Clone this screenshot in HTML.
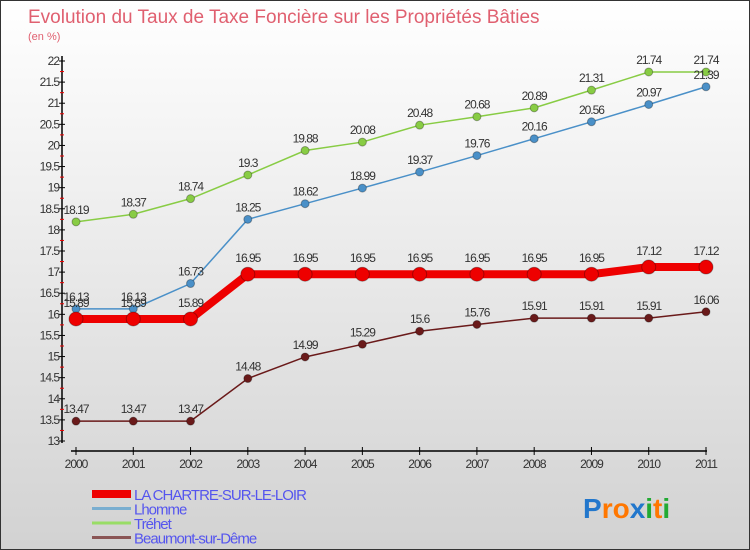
<!DOCTYPE html>
<html><head><meta charset="utf-8"><style>
body{margin:0}
#c{position:relative;width:750px;height:550px;overflow:hidden;font-family:"Liberation Sans","DejaVu Sans",sans-serif;background:linear-gradient(#ffffff,#d2d2d2);box-sizing:border-box;border:1px solid #333}
</style></head><body>
<div id="c">
<svg id="s" width="750" height="550" xmlns="http://www.w3.org/2000/svg"></svg>
</div>
<script>
const years=["2000","2001","2002","2003","2004","2005","2006","2007","2008","2009","2010","2011"];
const chartre=[15.89,15.89,15.89,16.95,16.95,16.95,16.95,16.95,16.95,16.95,17.12,17.12];
const lhomme=[16.13,16.13,16.73,18.25,18.62,18.99,19.37,19.76,20.16,20.56,20.97,21.39];
const trehet=[18.19,18.37,18.74,19.3,19.88,20.08,20.48,20.68,20.89,21.31,21.74,21.74];
const beaumont=[13.47,13.47,13.47,14.48,14.99,15.29,15.6,15.76,15.91,15.91,15.91,16.06];
const yTicks=["13","13.5","14","14.5","15","15.5","16","16.5","17","17.5","18","18.5","19","19.5","20","20.5","21","21.5","22"];
const NS="http://www.w3.org/2000/svg";
const s=document.getElementById('s');
const X=i=>75+i*(630/11);
const Y=v=>440-(v-13)*(380/9);
function mk(t,a,p){const e=document.createElementNS(NS,t);for(const k in a)e.setAttribute(k,a[k]);(p||s).appendChild(e);return e;}
let t=mk('text',{x:27,y:22,'font-size':19,fill:'#e06070'});t.textContent='Evolution du Taux de Taxe Foncière sur les Propriétés Bâties';


t=mk('text',{x:27,y:39,'font-size':11,fill:'#e06070'});t.textContent='(en %)';


mk('line',{x1:61,y1:55,x2:61,y2:442,stroke:'#000','stroke-width':1.5});
mk('line',{x1:70,y1:450,x2:706,y2:450,stroke:'#000','stroke-width':1.5});
yTicks.forEach((l,i)=>{const v=parseFloat(l),y=Y(v);
mk('line',{x1:58,y1:y,x2:64,y2:y,stroke:'#000'});
if(i<yTicks.length-1)mk('line',{x1:59,y1:Y(v+0.25),x2:63,y2:Y(v+0.25),stroke:'#e00'});
const tt=mk('text',{x:58,y:y+4,'font-size':12,fill:'#333','text-anchor':'end','letter-spacing':'-1'});tt.textContent=l;

});
years.forEach((l,i)=>{const x=X(i);mk('line',{x1:x,y1:446,x2:x,y2:454,stroke:'#000'});
const tt=mk('text',{x:x,y:467,'font-size':12,fill:'#333','text-anchor':'middle','letter-spacing':'-1'});tt.textContent=l;

});
function series(d,col,w,r,name,dy){
const g=mk('g',{});


mk('polyline',{points:d.map((v,i)=>X(i)+','+Y(v)).join(' '),fill:'none',stroke:col,'stroke-width':w},g);
d.forEach((v,i)=>{const c=mk('circle',{cx:X(i),cy:Y(v),r:r,fill:col,stroke:'rgba(0,0,0,0.3)'},g);


const tt=mk('text',{x:X(i),y:Y(v)-dy,'font-size':12,fill:'#333','text-anchor':'middle','letter-spacing':'-1'},g);tt.textContent=String(v);});}
series(trehet,'#88cc44',1.5,4,'series-trehet',8);
series(lhomme,'#4a90c8',1.5,4,'series-lhomme',8);
series(beaumont,'#6a1a1a',1.5,4,'series-beaumont',8);
series(chartre,'#ee0000',8,7,'series-chartre',12);
const leg=[['LA CHARTRE-SUR-LE-LOIR','#ee0000',8],['Lhomme','#7aaed0',3],['Tréhet','#99dd66',3],['Beaumont-sur-Dême','#8a5555',3]];
leg.forEach((l,i)=>{const y=493+i*14.5;
mk('line',{x1:91,y1:y,x2:130,y2:y,stroke:l[1],'stroke-width':l[2]});
const tt=mk('text',{x:133,y:y+6,'font-size':15,fill:'#5555ee','letter-spacing':'-1'});tt.textContent=l[0];

});
const lg=mk('text',{x:582,y:517,'font-size':28,'font-weight':'bold'});


[['P','#2277cc'],['ro','#ff7700'],['x','#2277cc'],['i','#22aa33'],['t','#ff7700'],['i','#22aa33']].forEach(p=>{const ts=mk('tspan',{fill:p[1]},lg);ts.textContent=p[0];});
</script>
</body></html>
